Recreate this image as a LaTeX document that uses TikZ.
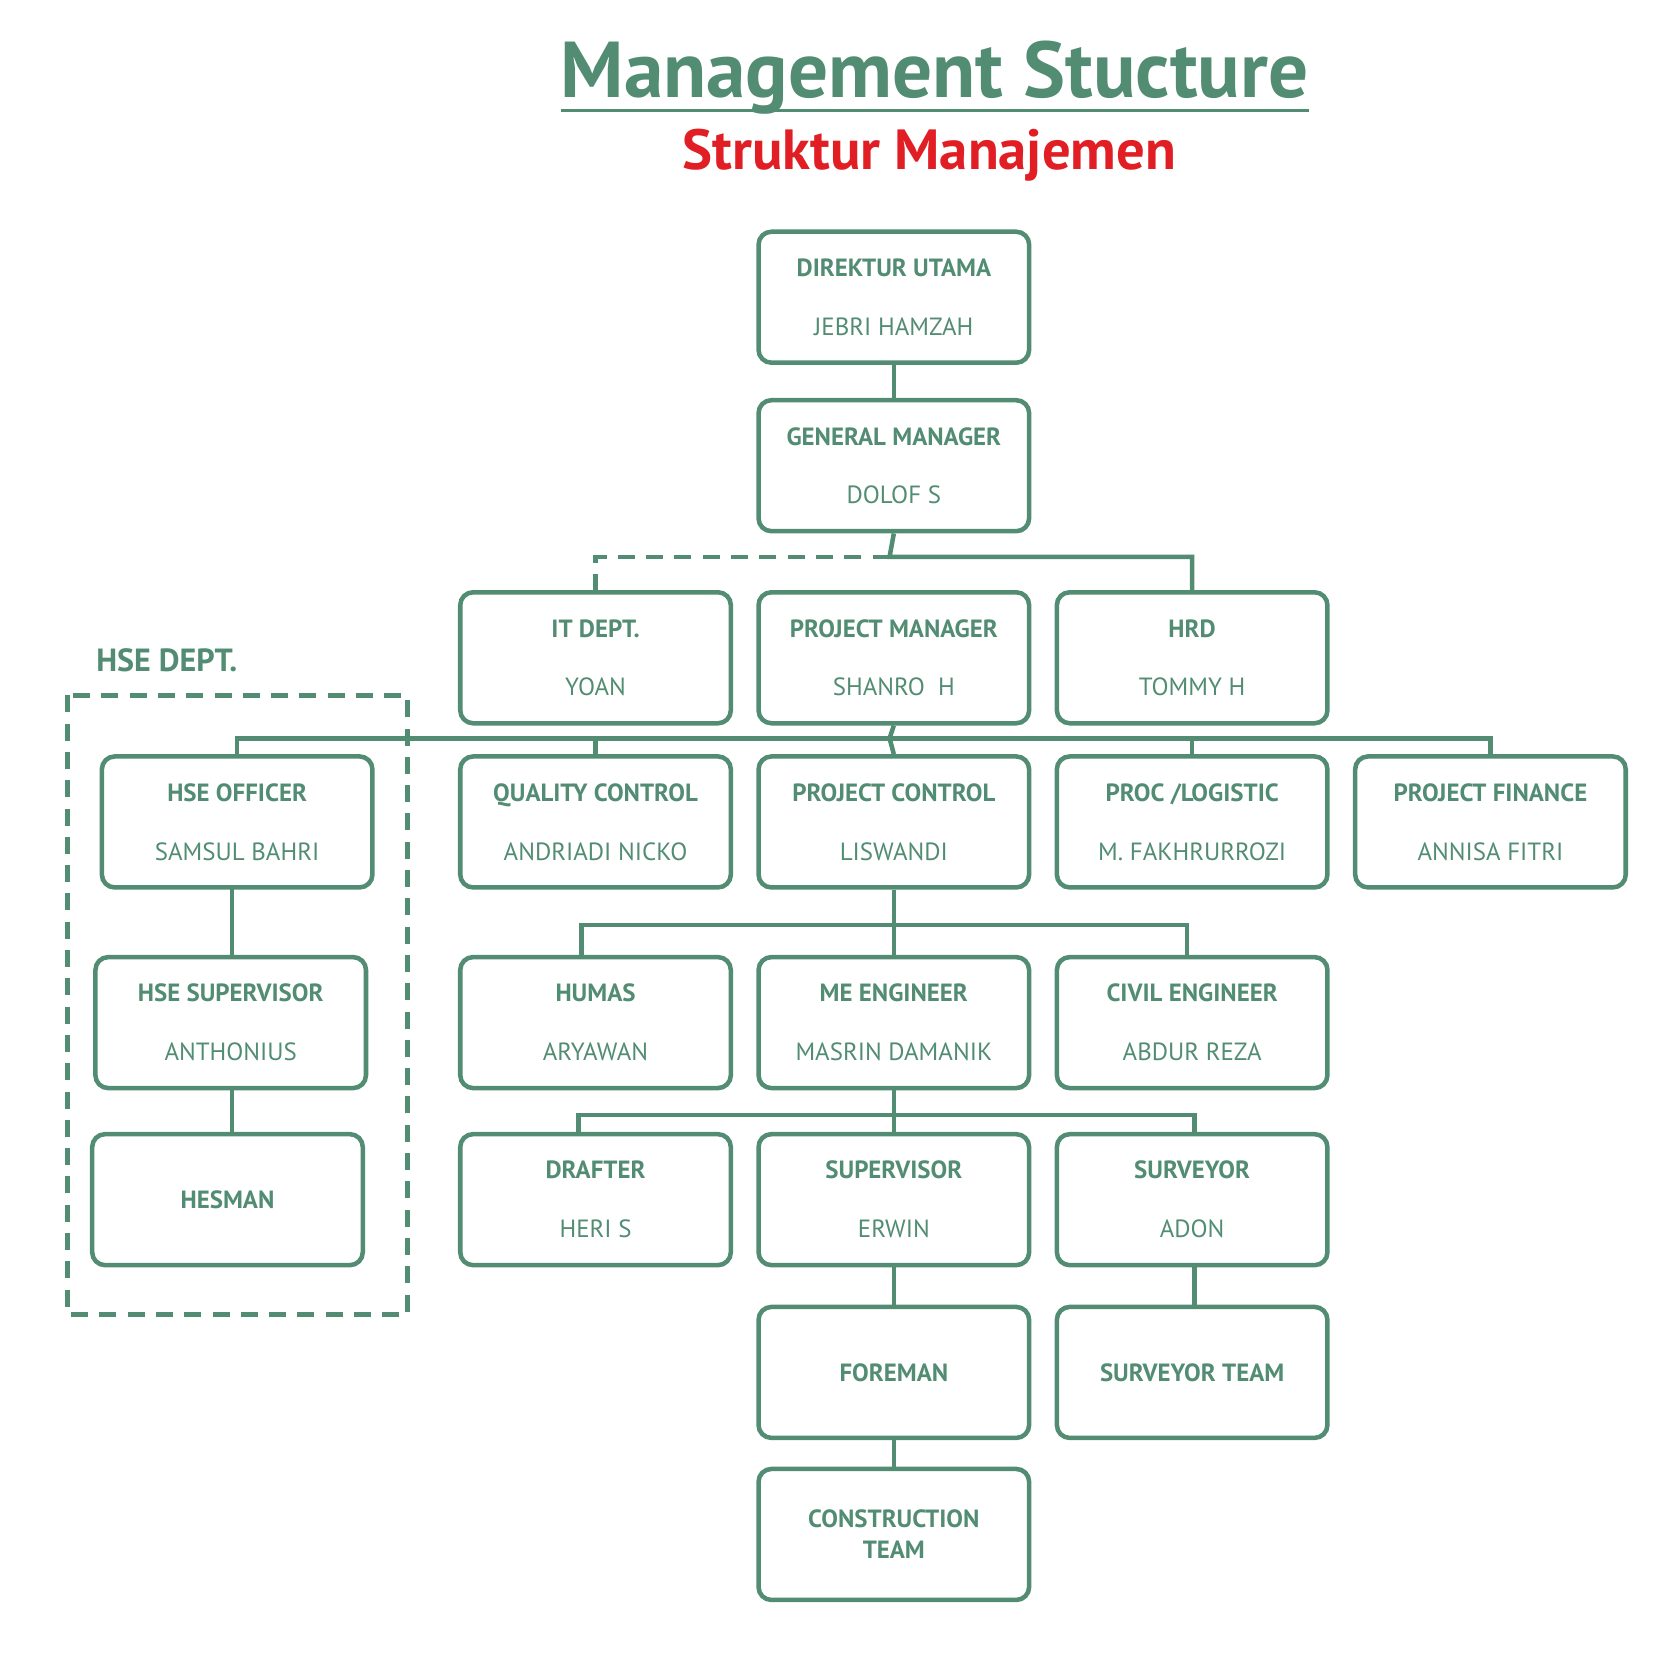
\documentclass[tikz,border=0pt]{standalone}
\usepackage{fontspec}
\setmainfont{PT Sans}
\usetikzlibrary{positioning}
\definecolor{orggreen}{HTML}{528C73}
\definecolor{orgred}{HTML}{E01E24}
\tikzset{
  box/.style={draw=orggreen, line width=1.2pt, rounded corners=3.4pt, minimum width=2.52cm,
    minimum height=1.22cm, inner sep=0pt, align=center, text=orggreen, font=\fontsize{6.6}{15.6}\selectfont},
  link/.style={draw=orggreen, line width=1.2pt},
  dlink/.style={link, dash pattern=on 4.5pt off 3pt},
}
\newcommand{\card}[2]{\textbf{#1}\\#2}
\begin{document}
\begin{tikzpicture}[x=0.01cm,y=-0.01cm]
\useasboundingbox (0,0) rectangle (1560,1561);
% title
\node[text=orggreen, font=\fontsize{21}{24}\bfseries] (title) at (871,72) {Management Stucture};
\draw[link, line width=1pt] (523,103) -- (1220,103);
\node[text=orgred, font=\fontsize{15}{18}\bfseries] (subtitle) at (866,145) {Struktur Manajemen};
% boxes
\node[box] (du) at (833,277) {\card{DIREKTUR UTAMA}{JEBRI HAMZAH}};
\node[box] (gm) at (833,434) {\card{GENERAL MANAGER}{DOLOF S}};
\node[box] (it) at (555,613) {\card{IT DEPT.}{YOAN}};
\node[box] (pm) at (833,613) {\card{PROJECT MANAGER}{SHANRO\ \ H}};
\node[box] (hrd) at (1111,613) {\card{HRD}{TOMMY H}};
\node[box] (hseo) at (221,766) {\card{HSE OFFICER}{SAMSUL BAHRI}};
\node[box] (qc) at (555,766) {\card{QUALITY CONTROL}{ANDRIADI NICKO}};
\node[box] (pc) at (833,766) {\card{PROJECT CONTROL}{LISWANDI}};
\node[box] (proc) at (1111,766) {\card{PROC /LOGISTIC}{M. FAKHRURROZI}};
\node[box] (fin) at (1389,766) {\card{PROJECT FINANCE}{ANNISA FITRI}};
\node[box] (hses) at (215,953) {\card{HSE SUPERVISOR}{ANTHONIUS}};
\node[box] (humas) at (555,953) {\card{HUMAS}{ARYAWAN}};
\node[box] (me) at (833,953) {\card{ME ENGINEER}{MASRIN DAMANIK}};
\node[box] (civil) at (1111,953) {\card{CIVIL ENGINEER}{ABDUR REZA}};
\node[box] (hesman) at (212,1118) {\textbf{HESMAN}};
\node[box] (drafter) at (555,1118) {\card{DRAFTER}{HERI S}};
\node[box] (sup) at (833,1118) {\card{SUPERVISOR}{ERWIN}};
\node[box] (surv) at (1111,1118) {\card{SURVEYOR}{ADON}};
\node[box] (fore) at (833,1279) {\textbf{FOREMAN}};
\node[box] (survt) at (1111,1279) {\textbf{SURVEYOR TEAM}};
\node[box, font=\fontsize{6.6}{8.2}\selectfont\bfseries] (ct) at (833,1430) {CONSTRUCTION\\TEAM};
% HSE dept
\node[text=orggreen, font=\fontsize{8.5}{10}\bfseries, anchor=west, inner sep=0pt] (hsedept) at (89,615) {HSE DEPT.};
\draw[dlink] (63,648) rectangle (380,1225);
% connectors
\draw[link] (du) -- (gm);
\coordinate (b1) at (829,519);
\draw[link] (gm.south) -- (b1) -| (hrd.north);
\draw[dlink] (b1) -| (it.north);
\coordinate (b2) at (829,688);
\draw[link] (pm.south) -- (b2);
\draw[link] (hseo.north) |- (b2) -| (fin.north);
\draw[link] (qc.north) -- (qc.north |- b2);
\draw[link] (pc.north) -- (b2);
\draw[link] (proc.north) -- (proc.north |- b2);
\coordinate (b3) at (829,862);
\draw[link] (pc.south) -- (me.north);
\draw[link] (542,892) |- (b3) -| (1106,892);
\coordinate (b4) at (829,1039);
\draw[link] (me.south) -- (sup.north);
\draw[link] (539,1057) |- (b4) -| (1113,1057);
\draw[link] (sup) -- (fore);
\draw[link] (1113,1179) -- (1113,1218);
\draw[link] (fore) -- (ct);
\draw[link] (216,828) -- (216,892);
\draw[link] (216,1014) -- (216,1057);
\end{tikzpicture}
\end{document}
